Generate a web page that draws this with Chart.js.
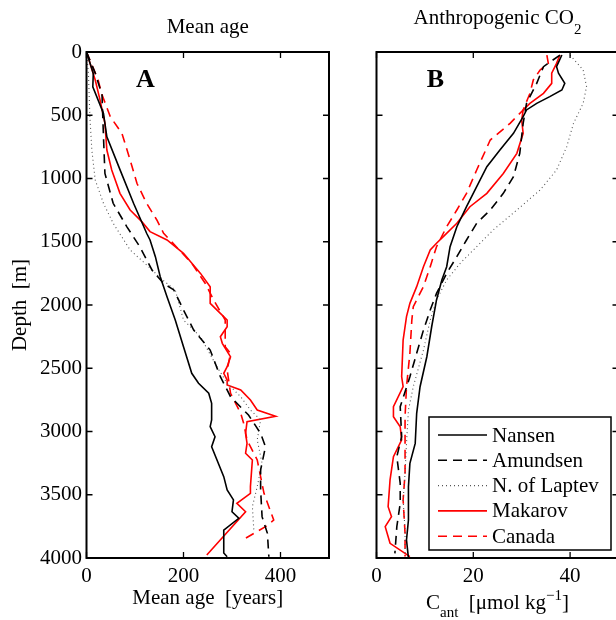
<!DOCTYPE html>
<html lang="en">
<head>
<meta charset="utf-8">
<title>Mean age and anthropogenic CO2 profiles</title>
<script src="https://cdn.jsdelivr.net/npm/chart.js"></script>
<style>
  body { margin: 0; background: #fff; overflow: hidden; width: 616px; height: 620px; position: relative; }
  canvas { position: absolute; top: 0; }
  #ageChart { left: 0; }
  #cantChart { left: 340px; }
</style>
</head>
<body>
<canvas id="ageChart" width="340" height="620"></canvas>
<canvas id="cantChart" width="282" height="620"></canvas>
<script>
// ticks
const depthTicks = [0, 500, 1000, 1500, 2000, 2500, 3000, 3500, 4000]
const ageTicks = [0, 200, 400]
const cantTicks = [0, 20, 40]

// panel A: mean age [years] vs depth [m]
const nansenAgeDepth = [0, 170, 275, 485, 670, 930, 1196, 1433, 1486, 1618, 1776, 1934, 2119, 2330, 2540, 2619, 2698, 2777, 2909, 2962, 3041, 3120, 3357, 3462, 3541, 3634, 3686, 3779, 3960, 3990]
const nansenAge = [0, 14, 13, 35, 42, 69, 97, 124, 131, 142, 152, 166, 183, 200, 217, 231, 252, 258, 258, 255, 265, 258, 283, 290, 303, 300, 314, 283, 283, 290]
const amundsenAgeDepth = [0, 167, 340, 670, 960, 1196, 1380, 1540, 1723, 1830, 1881, 2040, 2198, 2356, 2567, 2725, 2870, 3015, 3120, 3304, 3462, 3673, 3805, 3990]
const amundsenAge = [0, 18, 32, 35, 38, 55, 83, 110, 135, 159, 180, 200, 221, 255, 276, 297, 334, 359, 369, 359, 359, 362, 373, 376]
const laptevAgeDepth = [0, 170, 511, 775, 1012, 1196, 1354, 1565, 1697, 1802, 1881, 2119, 2251, 2488, 2619, 2725, 2830, 2909, 3067, 3252, 3436, 3594, 3779]
const laptevAge = [0, 4, 7, 11, 18, 35, 55, 90, 128, 157, 183, 200, 235, 269, 290, 318, 338, 359, 352, 362, 352, 342, 345]
const makarovAgeDepth = [0, 221, 380, 564, 775, 933, 1117, 1249, 1341, 1420, 1486, 1591, 1750, 1855, 1987, 2066, 2119, 2172, 2251, 2303, 2409, 2488, 2540, 2593, 2632, 2672, 2751, 2830, 2880, 2922, 3015, 3094, 3172, 3225, 3436, 3489, 3568, 3634, 3976]
const makarovAge = [0, 18, 28, 38, 42, 52, 69, 90, 114, 131, 166, 200, 235, 255, 255, 276, 290, 290, 276, 280, 297, 290, 283, 290, 290, 318, 338, 352, 390, 331, 328, 331, 328, 342, 338, 338, 310, 328, 248]
const canadaAgeDepth = [0, 221, 327, 511, 643, 854, 1038, 1196, 1328, 1433, 1670, 1830, 1960, 2119, 2330, 2382, 2514, 2698, 2856, 2935, 3067, 3225, 3489, 3700, 3752, 3844]
const canadaAge = [0, 24, 31, 49, 73, 90, 104, 124, 145, 159, 217, 245, 262, 286, 286, 297, 290, 297, 318, 324, 331, 352, 366, 386, 369, 328]

// panel B: anthropogenic CO2 [umol/kg] vs depth [m]
const nansenCantDepth = [24, 116, 168, 248, 300, 353, 406, 458, 511, 643, 775, 907, 1065, 1223, 1381, 1539, 1697, 1802, 1960, 2172, 2409, 2646, 2856, 3094, 3252, 3436, 3700, 3858, 4000]
const nansenCant = [38.3, 37.2, 37.6, 38.9, 38.3, 35.8, 33.1, 31.0, 30.3, 28.3, 25.5, 22.8, 20.7, 18.6, 16.6, 15.2, 14.5, 13.5, 12.4, 11.4, 10.4, 9.0, 8.3, 8.0, 6.9, 6.6, 6.6, 6.2, 6.6]
const amundsenCantDepth = [24, 116, 248, 406, 564, 801, 986, 1117, 1249, 1354, 1486, 1618, 1750, 1908, 2040, 2198, 2382, 2567, 2804, 3041, 3199, 3410, 3568, 3752, 3963]
const amundsenCant = [37.9, 34.5, 33.1, 31.0, 30.3, 29.6, 28.3, 26.2, 23.5, 20.7, 18.6, 16.6, 14.5, 12.4, 11.1, 9.7, 8.3, 6.9, 4.9, 5.2, 4.2, 4.9, 4.9, 4.2, 3.8]
const laptevCantDepth = [24, 142, 274, 406, 564, 749, 933, 1091, 1249, 1407, 1539, 1670, 1802, 1960, 2119, 2356, 2646, 2830, 3094, 3331, 3541, 3779, 3963]
const laptevCant = [40.0, 42.7, 43.4, 42.7, 40.7, 39.3, 37.2, 33.8, 29.0, 24.1, 20.7, 17.3, 14.5, 12.4, 11.1, 9.7, 7.6, 6.6, 6.2, 5.9, 5.5, 5.9, 5.9]
const makarovCantDepth = [24, 90, 168, 248, 327, 406, 458, 538, 643, 801, 960, 1117, 1223, 1354, 1460, 1512, 1565, 1697, 1855, 1987, 2092, 2277, 2567, 2646, 2804, 2883, 2962, 3067, 3199, 3383, 3594, 3673, 3752, 3884, 3989]
const makarovCant = [37.9, 37.2, 36.2, 36.2, 34.5, 31.7, 30.3, 30.0, 30.3, 29.0, 26.2, 22.8, 19.3, 16.6, 13.8, 12.4, 11.1, 9.7, 8.3, 6.9, 6.2, 5.5, 5.2, 5.5, 3.5, 3.5, 4.9, 5.2, 3.5, 2.8, 2.4, 3.1, 1.8, 2.8, 6.9]
const canadaCantDepth = [24, 90, 142, 221, 327, 458, 564, 696, 933, 1117, 1249, 1381, 1539, 1697, 1855, 2013, 2119, 2382, 2646, 2883, 3146, 3331, 3541, 3805, 3989]
const canadaCant = [35.2, 35.5, 33.8, 32.4, 31.7, 30.3, 27.6, 23.5, 20.7, 18.6, 16.6, 14.5, 12.4, 11.1, 9.7, 7.6, 7.3, 6.9, 6.2, 5.9, 5.9, 5.9, 5.5, 5.9, 5.9]

const serif = '"Liberation Serif", "Times New Roman", serif'

// line look per basin
const looks = {
	"Nansen": { color: "#000", dash: [], width: 1.6 },
	"Amundsen": { color: "#000", dash: [9, 6], width: 1.6 },
	"N. of Laptev": { color: "#555", dash: [1, 3], width: 1.1 },
	"Makarov": { color: "#f00", dash: [], width: 1.6 },
	"Canada": { color: "#f00", dash: [9, 6], width: 1.6 }
}

function series(label, depths, values) {
	const look = looks[label]
	return {
		label: label,
		data: depths.map((d, i) => ({ x: values[i], y: d })),
		showLine: true,
		borderColor: look.color,
		backgroundColor: look.color,
		borderDash: look.dash,
		borderWidth: look.width,
		pointRadius: 0,
		tension: 0
	}
}

// draws a piece of text made of runs [text, size, dy] centred at cx
function drawRuns(ctx, runs, cx, baseline) {
	let w = 0
	runs.forEach(r => { ctx.font = r[1] + "px " + serif; w += ctx.measureText(r[0]).width })
	let x = cx - w / 2
	ctx.textAlign = "left"
	ctx.textBaseline = "alphabetic"
	ctx.fillStyle = "#000"
	runs.forEach(r => {
		ctx.font = r[1] + "px " + serif
		ctx.fillText(r[0], x, baseline + r[2])
		x += ctx.measureText(r[0]).width
	})
}

const framePlugin = {
	id: "frame",
	afterDatasetsDraw(chart, args, opts) {
		const { ctx, chartArea: a } = chart
		const x = chart.scales.x, y = chart.scales.y
		ctx.save()
		ctx.strokeStyle = "#000"
		ctx.lineWidth = 1.3
		ctx.beginPath()
		x.ticks.forEach(t => {
			const px = x.getPixelForValue(t.value)
			ctx.moveTo(px, a.bottom); ctx.lineTo(px, a.bottom - 6)
			ctx.moveTo(px, a.top); ctx.lineTo(px, a.top + 6)
		})
		y.ticks.forEach(t => {
			const py = y.getPixelForValue(t.value)
			ctx.moveTo(a.left, py); ctx.lineTo(a.left + 6, py)
			ctx.moveTo(a.right, py); ctx.lineTo(a.right - 6, py)
		})
		ctx.stroke()
		ctx.lineWidth = 2
		ctx.strokeRect(a.left, a.top, a.right - a.left, a.bottom - a.top)

		ctx.fillStyle = "#000"
		ctx.font = "bold 26px " + serif
		ctx.textAlign = "center"
		ctx.textBaseline = "middle"
		ctx.fillText(opts.letter, a.left + 59, a.top + 28)

		const cx = (a.left + a.right) / 2
		drawRuns(ctx, opts.title, cx, opts.titleBase)
		if (opts.xTitle) drawRuns(ctx, opts.xTitle, cx, 609)
		ctx.restore()
	}
}

const legendPlugin = {
	id: "boxLegend",
	afterDraw(chart, args, opts) {
		if (!opts.show) return
		const ctx = chart.ctx
		ctx.save()
		ctx.fillStyle = "#fff"
		ctx.fillRect(89, 417, 182, 133)
		ctx.strokeStyle = "#000"
		ctx.lineWidth = 1.5
		ctx.strokeRect(89, 417, 182, 133)
		chart.data.datasets.forEach((ds, i) => {
			const yy = 435 + i * 25.3
			ctx.beginPath()
			ctx.strokeStyle = ds.borderColor
			ctx.lineWidth = ds.borderWidth
			ctx.setLineDash(ds.borderDash)
			ctx.moveTo(98, yy)
			ctx.lineTo(147, yy)
			ctx.stroke()
			ctx.setLineDash([])
			ctx.fillStyle = "#000"
			ctx.font = "21px " + serif
			ctx.textAlign = "left"
			ctx.textBaseline = "middle"
			ctx.fillText(ds.label, 152, yy + 1)
		})
		ctx.restore()
	}
}

function depthAxis(showLabels, width) {
	return {
		type: "linear",
		reverse: true,
		min: 0,
		max: 4000,
		grid: { display: false, drawTicks: false },
		border: { display: false },
		afterBuildTicks: s => { s.ticks = depthTicks.map(v => ({ value: v })) },
		afterFit: s => { s.width = width },
		ticks: { display: showLabels, font: { family: serif, size: 21 }, color: "#000", padding: 4.5, callback: v => String(v) },
		title: {
			display: showLabels,
			text: "Depth  [m]",
			font: { family: serif, size: 21 },
			color: "#000",
			padding: { top: 7.4, bottom: 0 }
		}
	}
}

function valueAxis(max, tickVals, title) {
	return {
		type: "linear",
		min: 0,
		max: max,
		grid: { display: false, drawTicks: false },
		border: { display: false },
		afterBuildTicks: s => { s.ticks = tickVals.map(v => ({ value: v })) },
		afterFit: s => { s.height = 62 },
		ticks: { font: { family: serif, size: 21 }, color: "#000", padding: 6, maxRotation: 0, callback: v => String(v) },
		title: {
			display: !!title,
			text: title || "",
			font: { family: serif, size: 21 },
			color: "#000",
			padding: { top: 0, bottom: 9.4 }
		}
	}
}

function baseOptions(xAxis, yAxis, rightPad, frame, legendShow) {
	return {
		responsive: false,
		animation: false,
		events: [],
		layout: { padding: { top: 52, right: rightPad, left: 0, bottom: 0 } },
		scales: { x: xAxis, y: yAxis },
		plugins: {
			legend: { display: false },
			tooltip: { enabled: false },
			frame: frame,
			boxLegend: { show: legendShow }
		}
	}
}

new Chart(document.getElementById("ageChart").getContext("2d"), {
	type: "scatter",
	data: {
		datasets: [
			series("Nansen", nansenAgeDepth, nansenAge),
			series("Amundsen", amundsenAgeDepth, amundsenAge),
			series("N. of Laptev", laptevAgeDepth, laptevAge),
			series("Makarov", makarovAgeDepth, makarovAge),
			series("Canada", canadaAgeDepth, canadaAge)
		]
	},
	options: baseOptions(
		valueAxis(500, ageTicks, "Mean age  [years]"),
		depthAxis(true, 86.5),
		11,
		{ letter: "A", title: [["Mean age", 21, 0]], titleBase: 33 },
		false
	),
	plugins: [framePlugin, legendPlugin]
})

new Chart(document.getElementById("cantChart").getContext("2d"), {
	type: "scatter",
	data: {
		datasets: [
			series("Nansen", nansenCantDepth, nansenCant),
			series("Amundsen", amundsenCantDepth, amundsenCant),
			series("N. of Laptev", laptevCantDepth, laptevCant),
			series("Makarov", makarovCantDepth, makarovCant),
			series("Canada", canadaCantDepth, canadaCant)
		]
	},
	options: baseOptions(
		valueAxis(50, cantTicks, null),
		depthAxis(false, 36.5),
		3.5,
		{
			letter: "B",
			title: [["Anthropogenic CO", 21, 0], ["2", 15, 10]],
			titleBase: 24,
			xTitle: [["C", 21, 0], ["ant", 15, 8], ["  [\u03bcmol kg", 21, 0], ["\u22121", 15, -9], ["]", 21, 0]]
		},
		true
	),
	plugins: [framePlugin, legendPlugin]
})
</script>
</body>
</html>
